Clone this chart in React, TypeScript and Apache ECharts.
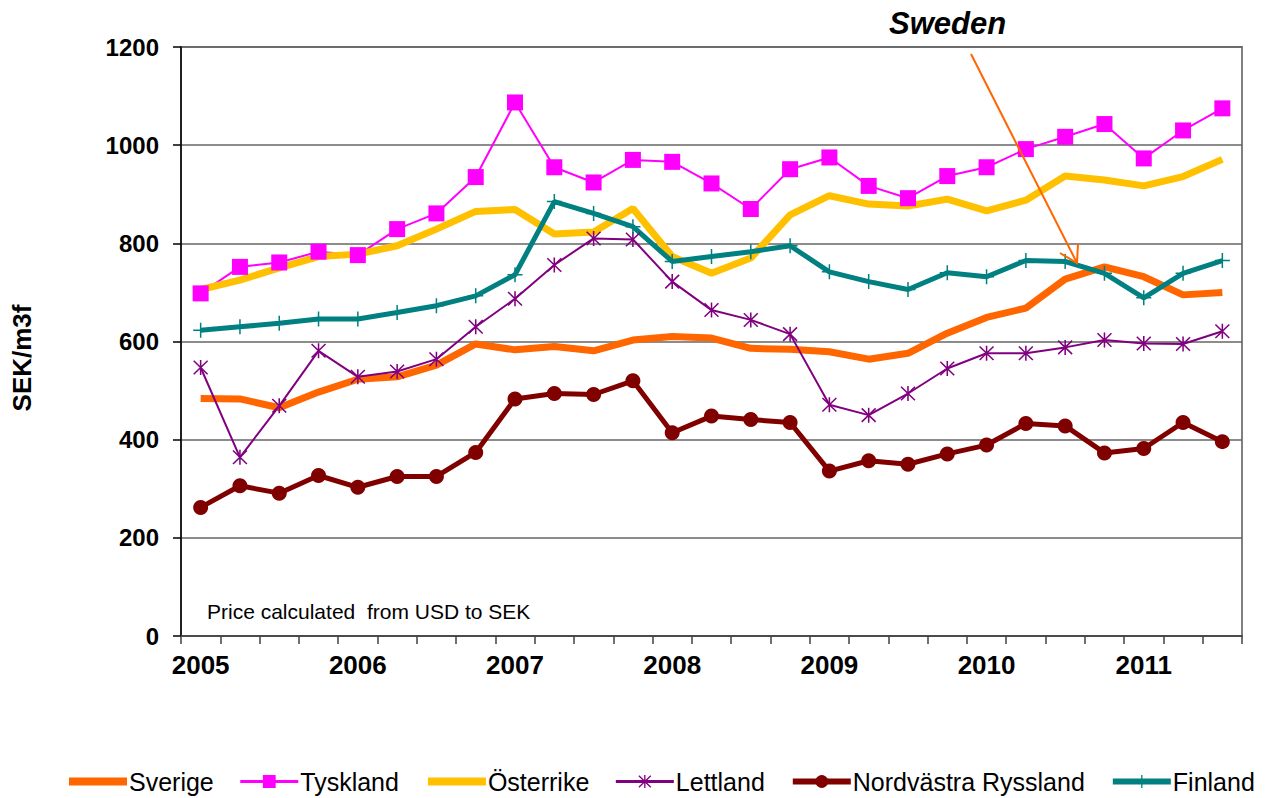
import React, { useEffect, useRef } from "react";
import * as echarts from "echarts";

const categories = [
  "2005", "", "", "", "2006", "", "", "", "2007", "", "", "", "2008", "", "", "",
  "2009", "", "", "", "2010", "", "", "", "2011", "", "",
];

const sverige = [484, 483, 465, 497, 523, 528, 552, 595, 583, 590, 581, 603, 610, 607, 586, 584, 579, 564, 576, 617, 649, 668, 727, 752, 732, 695, 700];
const tyskland = [698, 752, 761, 783, 776, 829, 861, 935, 1087, 955, 924, 970, 966, 922, 870, 951, 975, 917, 892, 937, 955, 992, 1017, 1043, 973, 1030, 1075];
const osterrike = [706, 725, 750, 773, 778, 795, 829, 865, 869, 819, 823, 871, 773, 739, 770, 858, 897, 880, 876, 890, 866, 888, 937, 929, 917, 936, 971];
const lettland = [547, 364, 469, 581, 528, 539, 564, 630, 687, 756, 810, 808, 722, 664, 644, 615, 471, 450, 494, 545, 576, 576, 588, 603, 596, 595, 621];
const ryssland = [262, 306, 291, 327, 303, 325, 325, 374, 483, 494, 492, 520, 414, 448, 441, 435, 336, 357, 350, 371, 389, 433, 428, 373, 382, 435, 396];
const finland = [623, 630, 637, 646, 646, 659, 673, 693, 736, 885, 861, 834, 763, 773, 783, 795, 742, 722, 706, 740, 732, 765, 763, 739, 689, 739, 765];

const yTicks = { min: 0, max: 1200, interval: 200 };

const PLUS = "path://M9,0H11V9H20V11H11V20H9V11H0V9H9Z";
const STAR =
  "path://M9,0H11V20H9Z M1.7,0.3L19.7,18.3L18.3,19.7L0.3,1.7Z M18.3,0.3L19.7,1.7L1.7,19.7L0.3,18.3Z";

export default function App() {
  const ref = useRef<HTMLDivElement>(null);
  useEffect(() => {
    if (!ref.current) return;
    const chart = echarts.init(ref.current, null, { renderer: "svg" });
    const font = "Arial, 'Liberation Sans', sans-serif";
    chart.setOption({
      animation: false,
      backgroundColor: "#ffffff",
      textStyle: { fontFamily: font },
      grid: {
        left: 181,
        right: 24,
        top: 47,
        bottom: 162,
        show: true,
        borderColor: "#808080",
        borderWidth: 2,
        backgroundColor: "transparent",
      },
      legend: {
        top: 764,
        left: 60,
        itemWidth: 58,
        itemHeight: 16,
        itemGap: 25,
        textStyle: { fontSize: 25, color: "#000", fontFamily: font, padding: [0, 0, 0, -3] },
        data: [
          { name: "Sverige", itemStyle: { opacity: 0 }, lineStyle: { width: 8 } },
          { name: "Tyskland", lineStyle: { width: 3 } },
          { name: "Österrike", itemStyle: { opacity: 0 }, lineStyle: { width: 8 } },
          { name: "Lettland", lineStyle: { width: 3 } },
          { name: "Nordvästra Ryssland", lineStyle: { width: 6 } },
          { name: "Finland", lineStyle: { width: 6 } },
        ],
      },
      xAxis: {
        type: "category",
        data: categories,
        boundaryGap: true,
        axisLine: { lineStyle: { color: "#404040", width: 1.5 } },
        axisTick: { show: true, interval: 0, length: 8, lineStyle: { color: "#404040", width: 1.5 } },
        axisLabel: {
          interval: 0,
          margin: 16,
          fontSize: 26,
          fontWeight: "bold",
          color: "#000",
          fontFamily: font,
        },
        splitLine: { show: false },
      },
      yAxis: {
        type: "value",
        min: yTicks.min,
        max: yTicks.max,
        interval: yTicks.interval,
        axisLine: { show: true, lineStyle: { color: "#000", width: 1.5 } },
        axisTick: { show: true, length: 8, lineStyle: { color: "#000", width: 1.5 } },
        axisLabel: {
          margin: 22,
          fontSize: 24,
          fontWeight: "bold",
          color: "#000",
          fontFamily: font,
          formatter: (v: number) => String(v),
        },
        splitLine: { show: true, lineStyle: { color: "#666666", width: 1.5 } },
      },
      series: [
        {
          name: "Sverige",
          type: "line",
          data: sverige,
          symbol: "none",
          lineStyle: { color: "#FF6600", width: 7 },
          itemStyle: { color: "#FF6600" },
        },
        {
          name: "Tyskland",
          type: "line",
          data: tyskland,
          symbol: "rect",
          symbolSize: 16,
          lineStyle: { color: "#FF00FF", width: 2 },
          itemStyle: { color: "#FF00FF", borderWidth: 0 },
        },
        {
          name: "Österrike",
          type: "line",
          data: osterrike,
          symbol: "none",
          lineStyle: { color: "#FFC000", width: 7 },
          itemStyle: { color: "#FFC000" },
        },
        {
          name: "Lettland",
          type: "line",
          data: lettland,
          symbol: STAR,
          symbolSize: 15,
          lineStyle: { color: "#800080", width: 2 },
          itemStyle: { color: "#800080", borderWidth: 0 },
        },
        {
          name: "Nordvästra Ryssland",
          type: "line",
          data: ryssland,
          symbol: "circle",
          symbolSize: 15,
          lineStyle: { color: "#800000", width: 5 },
          itemStyle: { color: "#800000", borderWidth: 0 },
        },
        {
          name: "Finland",
          type: "line",
          data: finland,
          symbol: PLUS,
          symbolSize: 15,
          lineStyle: { color: "#008080", width: 5 },
          itemStyle: { color: "#008080", borderWidth: 0 },
        },
      ],
      graphic: [
        {
          type: "text",
          x: 22,
          y: 358,
          rotation: Math.PI / 2,
          style: {
            text: "SEK/m3f",
            fontSize: 26,
            fontWeight: "bold",
            fontFamily: font,
            fill: "#000",
            textAlign: "center",
            textVerticalAlign: "middle",
          },
        },
        {
          type: "text",
          x: 207,
          y: 611,
          style: {
            text: "Price calculated  from USD to SEK",
            fontSize: 21,
            fontFamily: font,
            fill: "#000",
            textAlign: "left",
            textVerticalAlign: "middle",
          },
        },
        {
          type: "text",
          x: 889,
          y: 23,
          style: {
            text: "Sweden",
            fontSize: 31,
            fontWeight: "bold",
            fontStyle: "italic",
            fontFamily: font,
            fill: "#000",
            textAlign: "left",
            textVerticalAlign: "middle",
          },
        },
        {
          type: "line",
          shape: { x1: 971, y1: 54, x2: 1077, y2: 263 },
          style: { stroke: "#FF6600", lineWidth: 2 },
          z: 100,
        },
        {
          type: "polyline",
          shape: { points: [[1060, 253], [1077, 263], [1078, 244]] },
          style: { stroke: "#FF6600", lineWidth: 2, fill: "none" },
          z: 100,
        },
      ],
    });
    return () => chart.dispose();
  }, []);
  return (
    <div
      ref={ref}
      style={{ position: "fixed", left: 0, top: 0, width: 1266, height: 798 }}
    />
  );
}
